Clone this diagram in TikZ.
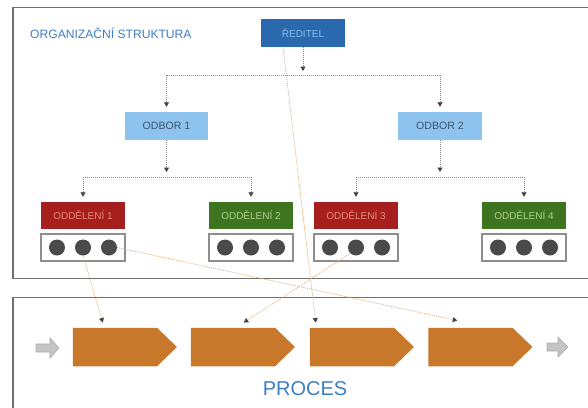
\documentclass[tikz,border=0pt]{standalone}
\usepackage{fontspec}
\setmainfont{Liberation Sans}
\usetikzlibrary{arrows.meta,calc,shapes.symbols}

\definecolor{framegray}{HTML}{707070}
\definecolor{titleblue}{HTML}{3E7FC1}
\definecolor{bossfill}{HTML}{2B69AE}
\definecolor{bosstext}{HTML}{8CBBEA}
\definecolor{odborfill}{HTML}{8DC3EC}
\definecolor{odbortext}{HTML}{3F5670}
\definecolor{redfill}{HTML}{A61E1E}
\definecolor{redtext}{HTML}{E58A80}
\definecolor{greenfill}{HTML}{3E7320}
\definecolor{greentext}{HTML}{AAD38C}
\definecolor{dotgray}{HTML}{4A4A4A}
\definecolor{boxgray}{HTML}{8E8E8E}
\definecolor{procorange}{HTML}{C8782A}
\definecolor{linkorange}{HTML}{E2B384}
\definecolor{treegray}{HTML}{8A8A8A}
\definecolor{tipgray}{HTML}{444444}

\tikzset{
  frame/.style={draw=framegray, line width=1.8pt},
  unitbox/.style={minimum width=84pt, minimum height=28pt, inner sep=0pt,
    font=\fontsize{10}{12}\selectfont},
  boss/.style={unitbox, fill=bossfill, text=bosstext},
  odbor/.style={unitbox, fill=odborfill, text=odbortext, font=\fontsize{10.6}{12}\selectfont},
  oddred/.style={unitbox, minimum height=27pt, fill=redfill, text=redtext},
  oddgreen/.style={unitbox, minimum height=27pt, fill=greenfill, text=greentext},
  staffbox/.style={draw=boxgray, fill=white, line width=1.1pt, minimum width=84pt,
    minimum height=27pt, inner sep=0pt},
  member/.style={circle, fill=dotgray, minimum size=16pt, inner sep=0pt},
  tree/.style={draw=treegray, line width=0.8pt, dash pattern=on 1pt off 1pt},
  tip/.style={-{Triangle[width=5pt,length=4.5pt,color=tipgray]}},
  link/.style={draw=linkorange, line width=0.8pt, dash pattern=on 1pt off 1pt,
    -{Triangle[width=5pt,length=4.5pt,color=tipgray]}},
  stage/.style={signal, signal to=east, signal from=nowhere, signal pointer angle=88,
    fill=procorange, minimum width=104pt, minimum height=38.5pt, inner sep=0pt},
  flowarrow/.style={fill=black!23, draw=black!33, line width=0.6pt},
}

\begin{document}
\begin{tikzpicture}[x=1pt, y=-1pt]
  \clip (0,0) rectangle (588,407);
  \fill[white] (0,0) rectangle (588,407);

  % outer frames
  \draw[frame] (13,7.5) rectangle (620,278.5);
  \draw[frame] (13,297.5) rectangle (620,440);

  \node[anchor=base west, text=titleblue, inner sep=0pt,
    font=\fontsize{12.1}{14}\selectfont] (title) at (30,38) {ORGANIZAČNÍ STRUKTURA};

  % organisation chart
  \node[boss] (red) at (303,33) {ŘEDITEL};
  \node[odbor, minimum width=83pt] (o1) at (166.5,126) {ODBOR 1};
  \node[odbor] (o2) at (440,126) {ODBOR 2};

  \node[oddred]   (d1) at (83,215.5)  {ODDĚLENÍ 1};
  \node[oddgreen] (d2) at (251,215.5) {ODDĚLENÍ 2};
  \node[oddred]   (d3) at (356,215.5) {ODDĚLENÍ 3};
  \node[oddgreen] (d4) at (524,215.5) {ODDĚLENÍ 4};

  \foreach \i/\x in {1/83, 2/251, 3/356, 4/524} {
    \node[staffbox] (c\i) at (\x,247.5) {};
    \node[member] (c\i a) at (\x-26,247.5) {};
    \node[member] (c\i b) at (\x,247.5) {};
    \node[member] (c\i c) at (\x+26,247.5) {};
  }

  % reporting lines
  \coordinate (bus1) at (303,75);
  \draw[tree,tip] (red.south) -- ($(bus1)+(0,-4)$);
  \draw[tree] (bus1 -| o1.north) -- (bus1 -| o2.north);
  \draw[tree,tip] (bus1 -| o1.north) -- ($(o1.north)+(0,-5)$);
  \draw[tree,tip] (bus1 -| o2.north) -- ($(o2.north)+(0,-5)$);

  \coordinate (bus2) at (166.5,177);
  \draw[tree,tip] (o1.south) -- ($(bus2)+(0,-5)$);
  \draw[tree] (bus2 -| d1.north) -- (bus2 -| d2.north);
  \draw[tree,tip] (bus2 -| d1.north) -- ($(d1.north)+(0,-5)$);
  \draw[tree,tip] (bus2 -| d2.north) -- ($(d2.north)+(0,-5)$);

  \coordinate (bus3) at (440,177);
  \draw[tree,tip] (o2.south) -- ($(bus3)+(0,-5)$);
  \draw[tree] (bus3 -| d3.north) -- (bus3 -| d4.north);
  \draw[tree,tip] (bus3 -| d3.north) -- ($(d3.north)+(0,-5)$);
  \draw[tree,tip] (bus3 -| d4.north) -- ($(d4.north)+(0,-5)$);

  % process chain
  \node[stage] (p1) at (115,347) {};
  \node[stage] (p2) at (233,347) {};
  \node[stage] (p3) at (352,347) {};
  \node[stage] (p4) at (470.5,347) {};

  \fill[flowarrow] (36,344) -- (50,344) -- (50,338) -- (59,348) -- (50,358)
    -- (50,352) -- (36,352) -- cycle;
  \fill[flowarrow] (547,343) -- (558,343) -- (558,337) -- (568,347) -- (558,357)
    -- (558,351) -- (547,351) -- cycle;

  \node[anchor=base, text=titleblue, inner sep=0pt,
    font=\fontsize{20}{22}\selectfont] (proc) at (305,395) {PROCES};

  % links between the chart and the process
  \draw[link] ($(red.south)+(-20,0)$) -- ($(p3.north west)+(6,-5)$);
  \draw[link] (c1b.south) -- ($(p1.north west)+(30,-5)$);
  \draw[link] (c1c.east) -- ($(p4.north west)+(29,-7)$);
  \draw[link] (c3b.south west) -- ($(p2.north west)+(53,-5)$);
\end{tikzpicture}
\end{document}
